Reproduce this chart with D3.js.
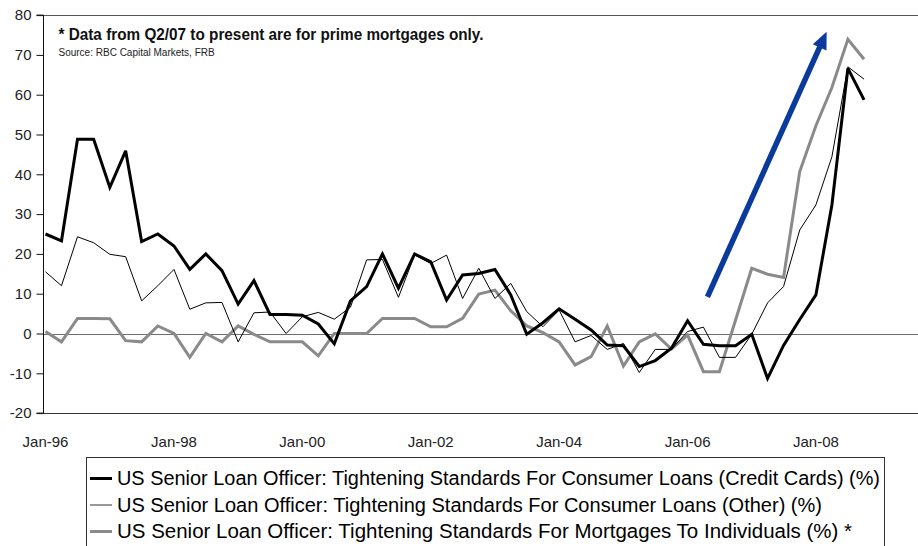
<!DOCTYPE html>
<html>
<head>
<meta charset="utf-8">
<script src="https://cdn.jsdelivr.net/npm/d3@7"></script>
<style>
  html, body { margin: 0; padding: 0; background: #ffffff; }
  svg { display: block; font-family: "Liberation Sans", Arial, sans-serif; }
</style>
</head>
<body>
<svg id="chart" width="918" height="546"></svg>
<script>
// Quarterly survey dates
const surveyDates = [
  "1996-01","1996-04","1996-07","1996-10",
  "1997-01","1997-04","1997-07","1997-10",
  "1998-01","1998-04","1998-07","1998-10",
  "1999-01","1999-04","1999-07","1999-10",
  "2000-01","2000-04","2000-07","2000-10",
  "2001-01","2001-04","2001-07","2001-10",
  "2002-01","2002-04","2002-07","2002-10",
  "2003-01","2003-04","2003-07","2003-10",
  "2004-01","2004-04","2004-07","2004-10",
  "2005-01","2005-04","2005-07","2005-10",
  "2006-01","2006-04","2006-07","2006-10",
  "2007-01","2007-04","2007-07","2007-10",
  "2008-01","2008-04","2008-07","2008-10"
];

// Net % of banks tightening standards
const creditCards = [
  25.0, 23.3, 48.8, 48.8, 36.7, 45.9, 23.1, 25.0,
  22.0, 16.1, 20.0, 15.8, 7.4, 13.3, 4.8, 4.8,
  4.6, 2.4, -2.6, 8.2, 11.8, 20.0, 11.4, 20.0,
  18.0, 8.4, 14.7, 15.1, 16.1, 9.7, -0.2, 2.7,
  6.2, 3.6, 0.9, -2.9, -3.1, -8.3, -6.8, -3.7,
  3.2, -2.7, -3.1, -3.1, -0.2, -11.3, -3.0, 3.5,
  9.7, 32.3, 66.6, 58.7
];
const otherConsumer = [
  15.5, 12.0, 24.3, 22.8, 19.9, 19.3, 8.2, 12.0,
  16.1, 6.1, 7.7, 7.8, -2.1, 5.2, 5.4, 0.0,
  4.2, 5.3, 3.6, 6.6, 18.5, 18.6, 9.1, 19.7,
  17.6, 19.7, 8.8, 16.4, 8.8, 12.6, 5.5, 1.7,
  5.9, -2.1, -0.5, -4.0, -2.5, -9.8, -4.0, -4.0,
  0.5, 1.6, -6.0, -6.0, -0.2, 7.7, 11.8, 26.0,
  32.3, 44.4, 67.0, 63.9
];
const mortgages = [
  0.5, -2.1, 3.8, 3.8, 3.7, -1.8, -2.1, 1.9,
  0.0, -6.0, 0.0, -2.1, 1.9, -0.2, -2.1, -2.1,
  -2.1, -5.6, 0.0, 0.0, 0.0, 3.8, 3.8, 3.8,
  1.7, 1.7, 3.8, 9.9, 10.9, 5.7, 1.9, 0.2,
  -2.1, -7.9, -5.8, 1.9, -8.2, -2.1, -0.1, -3.9,
  -0.4, -9.6, -9.6, 3.4, 16.4, 14.9, 14.1, 40.7,
  52.2, 61.8, 73.9, 68.9
];

const yTicks = [-20, -10, 0, 10, 20, 30, 40, 50, 60, 70, 80];
const xTickLabels = ["Jan-96", "Jan-98", "Jan-00", "Jan-02", "Jan-04", "Jan-06", "Jan-08"];
const legendLabels = [
  "US Senior Loan Officer: Tightening Standards For Consumer Loans (Credit Cards) (%)",
  "US Senior Loan Officer: Tightening Standards For Consumer Loans (Other) (%)",
  "US Senior Loan Officer: Tightening Standards For Mortgages To Individuals (%) *"
];
const noteText = "* Data from Q2/07 to present are for prime mortgages only.";
const sourceText = "Source: RBC Capital Markets, FRB";

// Trend arrow, from its tail to its tip, in chart units
const trendArrowDates = ["2006-04-24", "2008-03-02"];
const trendArrowValues = [9.2, 75.8];

const parseMonth = d3.timeParse("%Y-%m");
const parseDay = d3.timeParse("%Y-%m-%d");
const parseLabel = d3.timeParse("%b-%y");

const svg = d3.select("#chart");

const plotLeft = 43, plotRight = 918, plotTop = 15.1, plotBottom = 413.1;

const x = d3.scaleTime()
  .domain([new Date(1996, 0, 1), new Date(2008, 0, 1)])
  .range([45.5, 815.9]);
const y = d3.scaleLinear()
  .domain([-20, 80])
  .range([plotBottom, plotTop]);

const dates = surveyDates.map(parseMonth);

// Frame: top and bottom edges of the plot area
svg.append("line")
  .attr("x1", plotLeft).attr("x2", plotRight)
  .attr("y1", Math.round(y(80)) + 0.5).attr("y2", Math.round(y(80)) + 0.5)
  .attr("stroke", "#555").attr("stroke-width", 1);
svg.append("line")
  .attr("x1", plotLeft).attr("x2", plotRight)
  .attr("y1", Math.round(y(-20)) + 0.5).attr("y2", Math.round(y(-20)) + 0.5)
  .attr("stroke", "#333").attr("stroke-width", 1);

// Zero line
svg.append("line")
  .attr("x1", plotLeft).attr("x2", plotRight)
  .attr("y1", Math.round(y(0)) + 0.5).attr("y2", Math.round(y(0)) + 0.5)
  .attr("stroke", "#6e6e6e").attr("stroke-width", 1);

// Left axis
const yAxis = d3.axisLeft(y)
  .tickValues(yTicks)
  .tickSize(7)
  .tickPadding(5)
  .tickFormat(d => String(d));
const yAxisG = svg.append("g")
  .attr("transform", `translate(${plotLeft + 0.5},0)`)
  .call(yAxis);
yAxisG.select(".domain").attr("stroke", "#111").attr("d", `M-7,${y(-20)}H0V${y(80)}H-7`);
yAxisG.selectAll(".tick line").attr("stroke", "#111");
yAxisG.selectAll(".tick text")
  .attr("fill", "#222")
  .style("font-family", "'Liberation Sans', Arial, sans-serif")
  .style("font-size", "15px");

// Bottom date labels
svg.append("g").selectAll("text")
  .data(xTickLabels)
  .join("text")
  .attr("x", d => x(parseLabel(d)))
  .attr("y", 447)
  .attr("text-anchor", "middle")
  .attr("fill", "#222")
  .style("font-size", "15px")
  .text(d => d);

// Series lines
const series = [
  { values: mortgages, color: "#8a8a8a", width: 3 },
  { values: otherConsumer, color: "#000000", width: 1 },
  { values: creditCards, color: "#000000", width: 3 }
];
const line = d3.line()
  .x((d, i) => x(dates[i]))
  .y(d => y(d));
svg.append("g").selectAll("path")
  .data(series)
  .join("path")
  .attr("fill", "none")
  .attr("stroke", d => d.color)
  .attr("stroke-width", d => d.width)
  .attr("stroke-linejoin", "miter")
  .attr("stroke-miterlimit", 3)
  .attr("d", d => line(d.values));

// Trend arrow
const ax0 = x(parseDay(trendArrowDates[0])), ay0 = y(trendArrowValues[0]);
const ax1 = x(parseDay(trendArrowDates[1])), ay1 = y(trendArrowValues[1]);
const len = Math.hypot(ax1 - ax0, ay1 - ay0);
const ux = (ax1 - ax0) / len, uy = (ay1 - ay0) / len;
const headLen = 17, headHalf = 7.5;
const bx = ax1 - ux * headLen, by = ay1 - uy * headLen;
svg.append("line")
  .attr("x1", ax0).attr("y1", ay0)
  .attr("x2", bx + ux * 2).attr("y2", by + uy * 2)
  .attr("stroke", "#0a3a9c").attr("stroke-width", 5.5);
svg.append("path")
  .attr("d", d3.line()([
    [ax1, ay1],
    [bx - uy * headHalf, by + ux * headHalf],
    [bx + uy * headHalf, by - ux * headHalf]
  ]) + "Z")
  .attr("fill", "#0a3a9c");

// Note and source
svg.append("text")
  .attr("x", 58.5).attr("y", 40)
  .attr("fill", "#111")
  .style("font-size", "16.5px")
  .style("font-weight", "bold")
  .attr("textLength", 425)
  .attr("lengthAdjust", "spacingAndGlyphs")
  .text(noteText);
svg.append("text")
  .attr("x", 58.5).attr("y", 56)
  .attr("fill", "#222")
  .style("font-size", "10px")
  .text(sourceText);

// Legend
const legend = svg.append("g");
legend.append("rect")
  .attr("x", 86.5).attr("y", 457.5)
  .attr("width", 798).attr("height", 110)
  .attr("fill", "#fff")
  .attr("stroke", "#333").attr("stroke-width", 1);
const legendStyles = [
  { color: "#000000", width: 3 },
  { color: "#555555", width: 1.2 },
  { color: "#8a8a8a", width: 3 }
];
const legendWidths = [763, 705, 735];
const rows = legend.selectAll("g.row")
  .data(legendLabels)
  .join("g")
  .attr("class", "row")
  .attr("transform", (d, i) => `translate(0,${485 + i * 26.5})`);
rows.append("line")
  .attr("x1", 90).attr("x2", 112)
  .attr("y1", -6.5).attr("y2", -6.5)
  .attr("stroke", (d, i) => legendStyles[i].color)
  .attr("stroke-width", (d, i) => legendStyles[i].width);
rows.append("text")
  .attr("x", 117).attr("y", 0)
  .attr("fill", "#000")
  .style("font-size", "19.5px")
  .attr("textLength", (d, i) => legendWidths[i])
  .attr("lengthAdjust", "spacingAndGlyphs")
  .text(d => d);
</script>
</body>
</html>
